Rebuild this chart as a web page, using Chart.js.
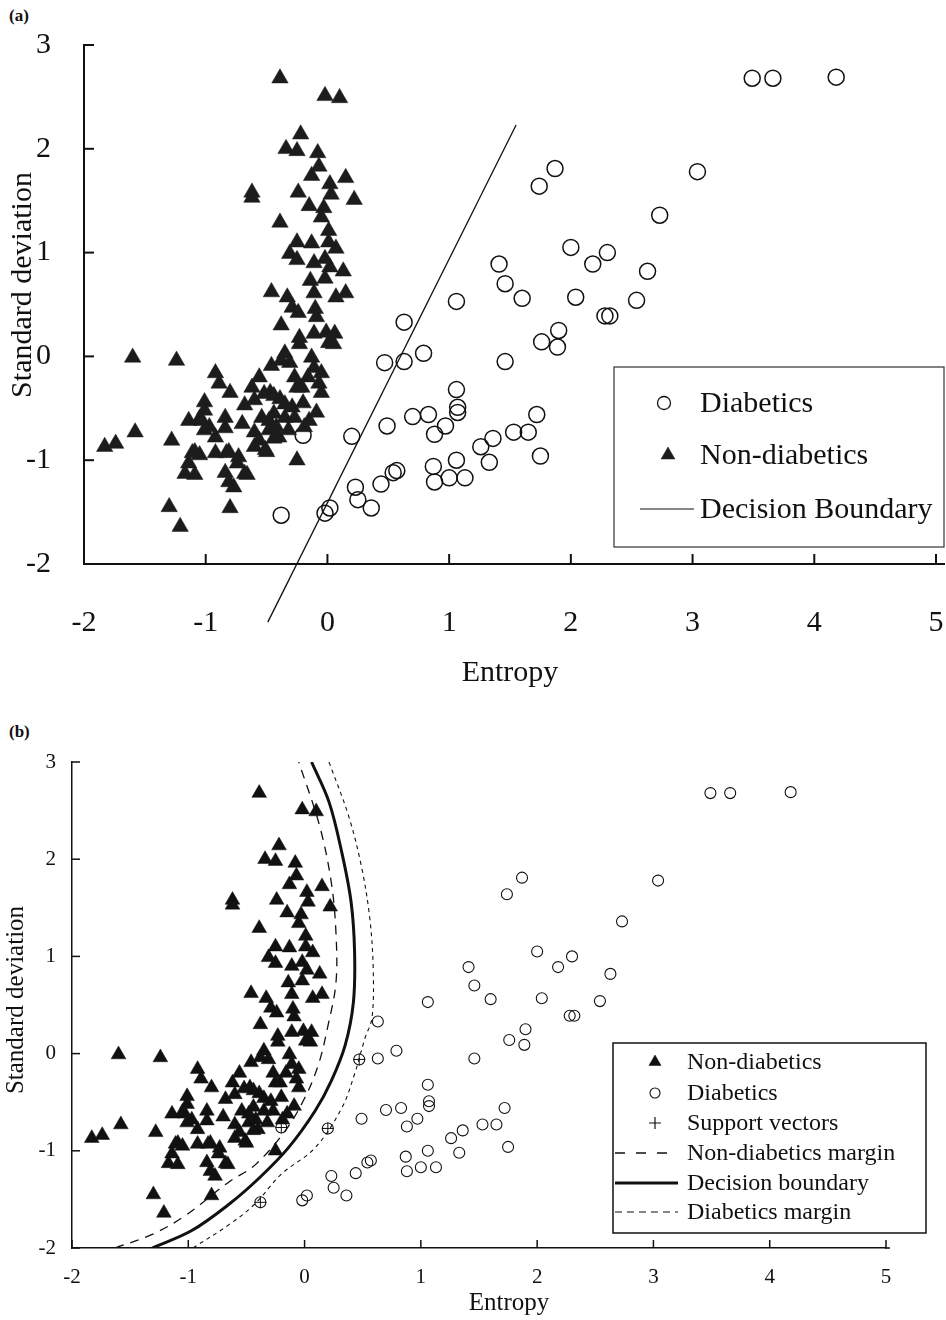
<!DOCTYPE html>
<html><head><meta charset="utf-8">
<script src="https://cdn.jsdelivr.net/npm/chart.js@4.4.1/dist/chart.umd.min.js"></script>
<style>
html,body{margin:0;padding:0;background:#fff;}
body{width:946px;height:1320px;position:relative;overflow:hidden;font-family:"Liberation Serif",serif;color:#111;}
.wrap{position:absolute;left:0;width:946px;}
#wa{top:0;height:700px;}
#wb{top:700px;height:620px;}
canvas{display:block;}
.lbl{position:absolute;font-weight:bold;font-size:17px;line-height:17px;}
</style></head><body>
<div class="lbl" style="left:9px;top:7px">(a)</div>
<div class="lbl" style="left:9px;top:723px">(b)</div>
<div class="wrap" id="wa"><canvas id="ca" width="946" height="700"></canvas></div>
<div class="wrap" id="wb"><canvas id="cb" width="946" height="620"></canvas></div>
<script>
// ---------------- DATA ----------------
const xTickValues = [-2, -1, 0, 1, 2, 3, 4, 5];
const yTickValues = [-2, -1, 0, 1, 2, 3];

// [Entropy, Standard deviation]
const diabetics = [
  [3.49,2.68],[3.66,2.68],[4.18,2.69],[3.04,1.78],[1.87,1.81],[1.74,1.64],[2.73,1.36],
  [2.00,1.05],[2.30,1.00],[2.18,0.89],[2.63,0.82],[1.41,0.89],[1.46,0.70],[1.60,0.56],
  [2.04,0.57],[2.54,0.54],[1.06,0.53],[2.28,0.39],[2.32,0.39],[1.90,0.25],[1.76,0.14],
  [1.89,0.09],[0.63,0.33],[0.79,0.03],[0.47,-0.06],[0.63,-0.05],[1.46,-0.05],[1.06,-0.32],
  [1.07,-0.49],[1.07,-0.54],[0.70,-0.58],[0.83,-0.56],[0.97,-0.67],[0.88,-0.75],[0.49,-0.67],
  [0.20,-0.77],[1.72,-0.56],[1.53,-0.73],[1.65,-0.73],[1.36,-0.79],[1.26,-0.87],[1.33,-1.02],
  [1.75,-0.96],[1.06,-1.00],[0.87,-1.06],[0.88,-1.21],[1.00,-1.17],[1.13,-1.17],[0.57,-1.10],
  [0.54,-1.12],[0.44,-1.23],[0.23,-1.26],[0.25,-1.38],[0.36,-1.46],[0.02,-1.46],[-0.02,-1.51],
  [-0.38,-1.53],[-0.20,-0.76]
];

const nonDiabetics = [
  [-0.39,2.68],[-0.02,2.51],[0.10,2.49],[-0.22,2.14],[-0.34,2.00],[-0.25,1.98],[-0.08,1.96],
  [-0.07,1.83],[-0.13,1.74],[0.15,1.72],[0.02,1.66],[-0.24,1.58],[-0.62,1.58],[-0.62,1.53],
  [0.22,1.51],[0.03,1.56],[-0.15,1.45],[-0.03,1.43],[-0.05,1.34],[-0.39,1.29],[0.01,1.21],
  [-0.25,1.10],[-0.13,1.09],[0.01,1.10],[0.07,1.04],[-0.31,0.99],[-0.25,0.93],[-0.11,0.90],
  [-0.02,0.94],[0.02,0.86],[0.13,0.82],[-0.14,0.73],[-0.02,0.75],[-0.46,0.62],[-0.33,0.57],
  [-0.11,0.61],[0.07,0.57],[0.15,0.61],[-0.29,0.47],[-0.24,0.42],[-0.10,0.46],
  [-0.09,0.38],[-0.38,0.30],[-0.23,0.18],[-0.01,0.23],[0.06,0.22],[-0.11,0.22],[0.01,0.13],
  [0.05,0.12],[-1.60,-0.01],[-1.24,-0.04],[-0.35,0.03],[-0.31,-0.06],[-0.46,-0.09],[-0.13,-0.01],
  [-0.11,-0.11],[-0.23,0.12],[-0.38,-0.04],[-0.05,-0.16],[-0.92,-0.16],[-0.89,-0.26],[-0.80,-0.35],
  [-0.56,-0.20],[-0.62,-0.30],[-0.27,-0.20],[-0.07,-0.26],[-0.05,-0.35],[-0.21,-0.30],[-0.47,-0.35],
  [-0.39,-0.41],[-0.35,-0.46],[-0.68,-0.47],[-0.60,-0.42],[-1.01,-0.44],[-1.01,-0.52],[-1.14,-0.62],
  [-1.05,-0.60],[-0.84,-0.59],[-0.70,-0.65],[-0.54,-0.59],[-0.44,-0.55],[-0.35,-0.59],[-0.27,-0.59],
  [-0.09,-0.54],[-0.15,-0.62],[-0.97,-0.68],[-0.92,-0.78],[-0.84,-0.69],[-0.60,-0.73],[-0.48,-0.71],
  [-0.40,-0.78],[-1.58,-0.73],[-1.28,-0.81],[-1.74,-0.84],[-1.83,-0.87],[-0.56,-0.81],[-0.51,-0.90],
  [-0.60,-0.87],[-1.09,-0.92],[-1.05,-0.95],[-0.92,-0.93],[-0.83,-0.93],[-0.73,-0.97],[-0.25,-1.00],
  [-1.14,-1.03],[-1.17,-1.13],[-1.09,-1.14],[-0.84,-1.12],[-0.74,-1.03],[-0.66,-1.14],[-0.81,-1.21],
  [-0.77,-1.26],[-1.30,-1.45],[-1.21,-1.64],[-0.80,-1.46],
  [-0.52,-0.36],[-0.44,-0.38],[-0.29,-0.49],[-0.48,-0.62],[-0.42,-0.68],[-0.44,-0.79],[-0.50,-0.92],
  [-0.32,-0.71],[-0.16,-0.20],[-0.19,-0.68],[-1.03,-0.62],[-1.01,-0.71],[-1.11,-0.93],[-0.81,-0.92],
  [-0.68,-1.13],[-0.25,-0.30],[-0.20,-0.45]
];

// panel (a): linear decision boundary (end points)
const boundaryA = [[-0.49,-2.56],[1.55,2.23]];

// panel (b): support vectors and curved boundary / margins
const supportVectors = [[-0.38,-1.53],[0.20,-0.77],[0.47,-0.06],[-0.20,-0.76]];
const boundaryB = [[-1.31,-2.0],[-0.97,-1.82],[-0.65,-1.55],[-0.39,-1.28],[-0.14,-0.97],[0.09,-0.59],
  [0.23,-0.28],[0.35,0.09],[0.42,0.53],[0.43,1.05],[0.40,1.56],[0.32,2.07],[0.21,2.59],[0.06,3.0]];
const nonDiabMarginB = [[-1.63,-2.0],[-1.31,-1.86],[-1.03,-1.67],[-0.65,-1.32],[-0.43,-1.15],[-0.17,-0.80],
  [0.0,-0.46],[0.12,-0.11],[0.20,0.28],[0.27,0.73],[0.27,1.24],[0.23,1.76],[0.13,2.34],[-0.05,3.0]];
const diabMarginB = [[-0.96,-2.0],[-0.65,-1.76],[-0.43,-1.55],[-0.20,-1.24],[0.09,-0.97],[0.32,-0.56],
  [0.43,-0.21],[0.52,0.16],[0.58,0.37],[0.59,0.88],[0.56,1.40],[0.49,1.92],[0.38,2.44],[0.21,3.0]];

// ---------------- HELPERS ----------------
const FONT = '"Liberation Serif", "Times New Roman", serif';
const INK = '#111';
const TRI = '#1c1c1c';
const pts = a => a.map(([x, y]) => ({x, y}));

function seg(ctx, x1, y1, x2, y2) { ctx.beginPath(); ctx.moveTo(x1, y1); ctx.lineTo(x2, y2); ctx.stroke(); }

const decorPlugin = {
  id: 'decor',
  afterDraw(chart, args, o) {
    const ctx = chart.ctx, xs = chart.scales.x, ys = chart.scales.y;
    ctx.save();
    ctx.setLineDash([]);
    ctx.strokeStyle = INK;
    // inward tick marks
    ctx.lineWidth = o.tickWidth;
    xTickValues.forEach(v => { const p = xs.getPixelForValue(v); seg(ctx, p, ys.bottom, p, ys.bottom - o.tickLen); });
    yTickValues.forEach(v => { const p = ys.getPixelForValue(v); seg(ctx, xs.left, p, xs.left + o.tickLen, p); });
    if (o.axisExtend) { ctx.lineWidth = o.axisWidth; seg(ctx, xs.right - 1, ys.bottom, xs.right + o.axisExtend, ys.bottom); }
    // axis titles
    ctx.fillStyle = INK; ctx.textAlign = 'center'; ctx.textBaseline = 'middle';
    ctx.font = o.titleSize + 'px ' + FONT;
    ctx.fillText(o.xTitle, o.xTitlePos[0], o.xTitlePos[1]);
    ctx.save(); ctx.translate(o.yTitlePos[0], o.yTitlePos[1]); ctx.rotate(-Math.PI / 2);
    ctx.fillText(o.yTitle, 0, 0); ctx.restore();
    // legend
    const L = o.legend;
    ctx.lineWidth = L.border; ctx.strokeStyle = L.borderColor;
    ctx.strokeRect(L.box[0], L.box[1], L.box[2], L.box[3]);
    ctx.font = L.size + 'px ' + FONT; ctx.textAlign = 'left'; ctx.textBaseline = 'middle';
    L.items.forEach(it => {
      ctx.save();
      if (it.kind === 'point') {
        ctx.fillStyle = it.fill; ctx.strokeStyle = it.stroke; ctx.lineWidth = it.bw; ctx.setLineDash([]);
        Chart.helpers.drawPoint(ctx, {pointStyle: it.style, radius: it.r, rotation: 0, borderWidth: it.bw}, it.x, it.y);
      } else {
        ctx.strokeStyle = INK; ctx.lineWidth = it.width; ctx.setLineDash(it.dash);
        seg(ctx, it.x1, it.y, it.x2, it.y);
      }
      ctx.restore();
      ctx.fillStyle = INK;
      ctx.fillText(it.text, L.textX, it.y + 1);
    });
    ctx.restore();
  }
};

function scales(opt) {
  return {
    x: {
      type: 'linear', min: -2, max: 5,
      afterBuildTicks: s => { s.ticks = xTickValues.map(v => ({value: v})); },
      afterFit: s => { s.height = opt.xH; s.paddingLeft = 0; s.paddingRight = 0; },
      grid: {display: false},
      border: {display: true, color: INK, width: opt.axisW},
      ticks: {color: INK, font: {family: FONT, size: opt.tickSize}, padding: opt.xPad, maxRotation: 0, autoSkip: false},
      title: {display: false, text: 'Entropy'}
    },
    y: {
      type: 'linear', min: -2, max: 3,
      afterBuildTicks: s => { s.ticks = yTickValues.map(v => ({value: v})); },
      afterFit: s => { s.width = opt.yW; s.paddingTop = 0; s.paddingBottom = 0; },
      grid: {display: false},
      border: {display: true, color: INK, width: opt.axisW},
      ticks: {color: INK, font: {family: FONT, size: opt.tickSize}, padding: opt.yPad, autoSkip: false},
      title: {display: false, text: 'Standard deviation'}
    }
  };
}

// ---------------- PANEL (a) ----------------
new Chart(document.getElementById('ca'), {
  type: 'scatter',
  data: {
    datasets: [
      {label: 'Non-diabetics', data: pts(nonDiabetics), pointStyle: 'triangle', pointRadius: 9.5,
       backgroundColor: TRI, borderColor: TRI, borderWidth: 0.5, order: 0},
      {label: 'Diabetics', data: pts(diabetics), pointStyle: 'circle', pointRadius: 8,
       backgroundColor: 'rgba(255,255,255,0)', borderColor: INK, borderWidth: 1.5, order: 1},
      {label: 'Decision Boundary', data: pts(boundaryA), showLine: true, pointRadius: 0, fill: false,
       borderColor: INK, borderWidth: 1.3, clip: false, order: 2}
    ]
  },
  options: {
    responsive: false, animation: false, devicePixelRatio: 1,
    layout: {padding: {left: 0, top: 45, right: 9, bottom: 0}},
    scales: scales({xH: 136, yW: 84, axisW: 2, tickSize: 30, xPad: 33, yPad: 25}),
    plugins: {
      legend: {display: false}, tooltip: {enabled: false},
      decor: {
        tickLen: 10, tickWidth: 2, axisWidth: 2, axisExtend: 9,
        titleSize: 30, xTitle: 'Entropy', xTitlePos: [510, 673],
        yTitle: 'Standard deviation', yTitlePos: [23, 285],
        legend: {
          box: [614, 367, 330, 180], border: 1.2, borderColor: '#333', size: 30, textX: 700,
          items: [
            {kind: 'point', style: 'circle', r: 6.5, fill: 'rgba(255,255,255,0)', stroke: INK, bw: 1.3, x: 664, y: 403, text: 'Diabetics'},
            {kind: 'point', style: 'triangle', r: 8, fill: TRI, stroke: TRI, bw: 0.5, x: 668, y: 455, text: 'Non-diabetics'},
            {kind: 'line', x1: 640, x2: 694, y: 509, width: 1.2, dash: [], text: 'Decision Boundary'}
          ]
        }
      }
    }
  },
  plugins: [decorPlugin]
});

// ---------------- PANEL (b) ----------------
new Chart(document.getElementById('cb'), {
  type: 'scatter',
  data: {
    datasets: [
      {label: 'Support vectors', data: pts(supportVectors), pointStyle: 'cross', pointRadius: 6,
       backgroundColor: INK, borderColor: INK, borderWidth: 1, order: 0},
      {label: 'Non-diabetics', data: pts(nonDiabetics), pointStyle: 'triangle', pointRadius: 8.5,
       backgroundColor: INK, borderColor: INK, borderWidth: 0.5, order: 1},
      {label: 'Diabetics', data: pts(diabetics), pointStyle: 'circle', pointRadius: 5.5,
       backgroundColor: 'rgba(255,255,255,0)', borderColor: INK, borderWidth: 1.1, order: 2},
      {label: 'Non-diabetics margin', data: pts(nonDiabMarginB), showLine: true, pointRadius: 0, tension: 0.35,
       borderColor: INK, borderWidth: 1.3, borderDash: [9, 7], fill: false, order: 3},
      {label: 'Decision boundary', data: pts(boundaryB), showLine: true, pointRadius: 0, tension: 0.35,
       borderColor: INK, borderWidth: 3, fill: false, order: 4},
      {label: 'Diabetics margin', data: pts(diabMarginB), showLine: true, pointRadius: 0, tension: 0.35,
       borderColor: INK, borderWidth: 1.1, borderDash: [4, 4], fill: false, order: 5}
    ]
  },
  options: {
    responsive: false, animation: false, devicePixelRatio: 1,
    layout: {padding: {left: 0, top: 62, right: 60, bottom: 0}},
    scales: scales({xH: 72, yW: 72, axisW: 1.5, tickSize: 21, xPad: 9, yPad: 8}),
    plugins: {
      legend: {display: false}, tooltip: {enabled: false},
      decor: {
        tickLen: 8, tickWidth: 1.5, axisWidth: 1.5, axisExtend: 4,
        titleSize: 25, xTitle: 'Entropy', xTitlePos: [509, 603],
        yTitle: 'Standard deviation', yTitlePos: [16, 300],
        legend: {
          box: [613, 343, 313, 190], border: 1.5, borderColor: INK, size: 24, textX: 687,
          items: [
            {kind: 'point', style: 'triangle', r: 7, fill: INK, stroke: INK, bw: 0.5, x: 655, y: 362, text: 'Non-diabetics'},
            {kind: 'point', style: 'circle', r: 5, fill: 'rgba(255,255,255,0)', stroke: INK, bw: 1.1, x: 655, y: 393, text: 'Diabetics'},
            {kind: 'point', style: 'cross', r: 6, fill: INK, stroke: INK, bw: 1.2, x: 655, y: 423, text: 'Support vectors'},
            {kind: 'line', x1: 615, x2: 678, y: 453, width: 1.3, dash: [10, 11], text: 'Non-diabetics margin'},
            {kind: 'line', x1: 615, x2: 678, y: 483, width: 3, dash: [], text: 'Decision boundary'},
            {kind: 'line', x1: 615, x2: 678, y: 512, width: 1.1, dash: [7, 5], text: 'Diabetics margin'}
          ]
        }
      }
    }
  },
  plugins: [decorPlugin]
});
</script>
</body></html>
